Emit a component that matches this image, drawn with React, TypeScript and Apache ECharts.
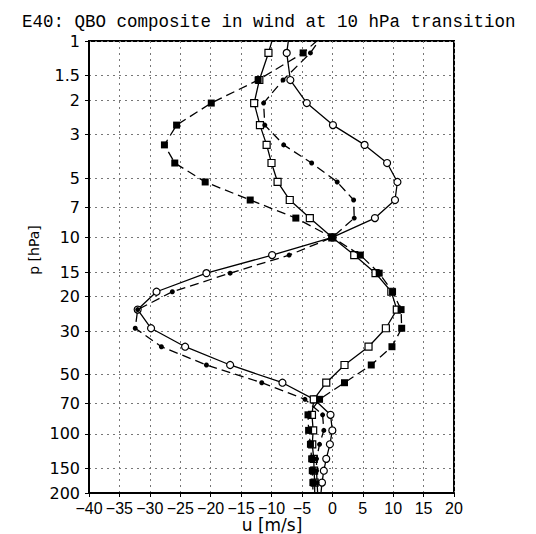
import React, { useEffect, useRef } from 'react';
import * as echarts from 'echarts';

// pressure levels [hPa] (first and last lie just outside the plotted range)
const levels = [0.8, 1.15, 1.58, 2.07, 2.68, 3.38, 4.18, 5.22, 6.45, 7.97, 10, 12.3, 15.2, 18.9, 23.3, 29.0, 36.0, 44.6, 54.9, 66.7, 80, 96, 113, 134, 154, 177, 205];

// zonal wind u [m/s] per level
const openCircle = [-6.8, -7.5, -6.9, -4.2, 0.1, 5.3, 9.0, 10.7, 10.3, 7.0, 0, -9.9, -20.7, -28.9, -32.0, -29.8, -24.2, -16.8, -8.2, -3.0, -0.3, 0.0, -0.4, -1.0, -1.4, -1.7, -1.9];
const filledCircle = [-0.1, -3.6, -8.1, -11.3, -11.1, -8.0, -3.4, 0.8, 3.5, 3.6, 0, -7.1, -16.8, -26.3, -32.0, -32.4, -28.1, -20.7, -11.6, -4.5, -1.6, -1.4, -2.1, -2.6, -2.6, -2.5, -2.4];
const openSquare = [-9.0, -10.5, -12.0, -12.85, -11.9, -10.8, -10.0, -9.0, -7.0, -3.7, 0, 3.6, 7.1, 9.7, 10.6, 8.8, 5.95, 2.0, -1.0, -3.05, -3.35, -3.15, -3.3, -3.05, -3.0, -2.9, -2.9];
const filledSquare = [1.0, -4.8, -12.2, -19.9, -25.6, -27.6, -25.9, -20.9, -13.5, -6.0, 0, 4.6, 7.7, 9.9, 11.3, 11.4, 9.8, 6.4, 2.0, -2.1, -4.0, -3.9, -3.6, -3.4, -3.3, -3.2, -3.2];

const pTicks = [1, 1.5, 2, 3, 5, 7, 10, 15, 20, 30, 50, 70, 100, 150, 200];
const uMin = -40;
const uMax = 20;
const uStep = 5;

const titleText = 'E40: QBO composite in wind at 10 hPa transition';
const xName = 'u [m/s]';
const yName = 'p [hPa]';

export default function App() {
  const ref = useRef<HTMLDivElement>(null);
  useEffect(() => {
    const chart = echarts.init(ref.current!, null, { renderer: 'svg' });
    const pair = (vals: number[]) => vals.map((u, i) => [u, levels[i]]);
    const mk = (vals: number[], symbol: string, size: number, filled: boolean, dashed: boolean, z: number) => ({
      type: 'line',
      data: pair(vals),
      symbol,
      symbolSize: size,
      showSymbol: true,
      clip: true,
      z,
      lineStyle: { color: '#000', width: 1.3, type: dashed ? [9, 5] : 'solid' },
      itemStyle: filled
        ? { color: '#000', borderColor: '#000', borderWidth: 0 }
        : { color: '#fff', borderColor: '#000', borderWidth: 1.2 },
      emphasis: { disabled: true },
    });
    const fmtU = (v: number) => (v < 0 ? '\u2212' + String(-v) : String(v));
    chart.setOption({
      animation: false,
      backgroundColor: '#fff',
      title: {
        text: titleText,
        left: 17,
        top: 8,
        textStyle: { fontFamily: 'Liberation Mono', fontSize: 17.5, fontWeight: 'normal', color: '#000', lineHeight: 18 },
      },
      grid: { left: 89, right: 82, top: 41, bottom: 41, show: true, borderColor: '#000', borderWidth: 2, backgroundColor: 'transparent' },
      xAxis: {
        type: 'value',
        min: uMin,
        max: uMax,
        interval: uStep,
        axisLine: { show: true, onZero: false, lineStyle: { color: '#000', width: 2 } },
        axisTick: { show: true, length: 4, lineStyle: { color: '#000', width: 1 } },
        axisLabel: {
          formatter: fmtU,
          color: '#000',
          fontFamily: 'Liberation Sans',
          fontSize: 16,
          margin: 7,
          showMinLabel: true,
          showMaxLabel: true,
          hideOverlap: false,
        },
        splitLine: { show: true, lineStyle: { color: '#777', width: 1, type: [2, 4] } },
      },
      yAxis: {
        type: 'log',
        logBase: 10,
        min: 1,
        max: 200,
        inverse: true,
        axisLine: { show: true, onZero: false, lineStyle: { color: '#000', width: 2 } },
        axisTick: { show: true, length: 4, customValues: pTicks, lineStyle: { color: '#000', width: 1 } },
        axisLabel: {
          customValues: pTicks,
          formatter: (v: number) => String(Math.round(v * 100) / 100),
          color: '#000',
          fontFamily: 'DejaVu Sans',
          fontSize: 16,
          lineHeight: 13,
          margin: 9,
        },
        splitLine: { show: true, lineStyle: { color: '#777', width: 1, type: [2, 4] } },
        minorTick: { show: false },
      },
      graphic: [
        {
          type: 'text',
          x: 272,
          y: 525,
          style: { text: xName, fill: '#000', font: '17px "DejaVu Sans"', textAlign: 'center', textVerticalAlign: 'middle' },
        },
        {
          type: 'text',
          x: 34,
          y: 250,
          rotation: Math.PI / 2,
          style: { text: yName, fill: '#000', font: '14px "DejaVu Sans"', textAlign: 'center', textVerticalAlign: 'middle' },
        },
      ],
      series: [
        mk(openCircle, 'circle', 7, false, false, 2),
        mk(openSquare, 'rect', 7, false, false, 3),
        mk(filledCircle, 'circle', 5, true, true, 4),
        mk(filledSquare, 'rect', 7, true, true, 5),
      ],
    });
    return () => chart.dispose();
  }, []);
  return <div ref={ref} style={{ position: 'fixed', left: 0, top: 0, width: 536, height: 534 }} />;
}
